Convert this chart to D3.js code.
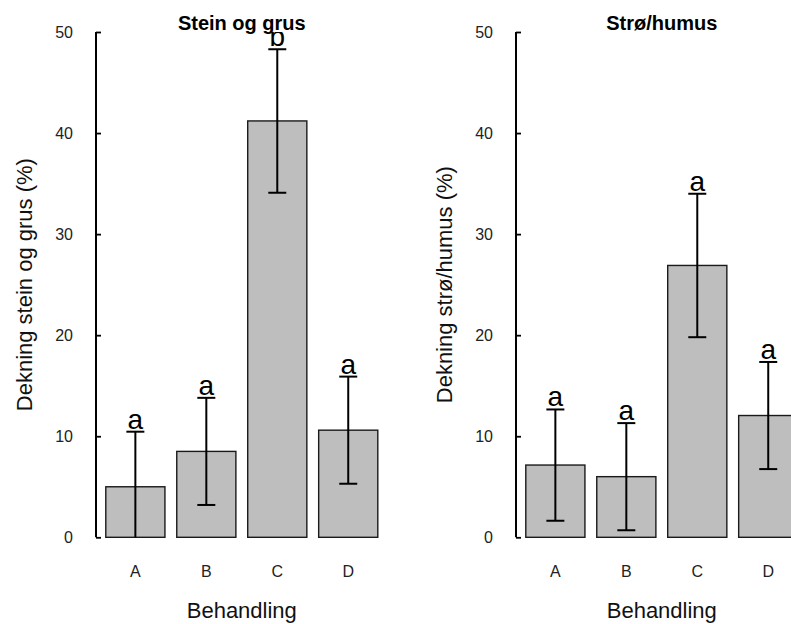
<!DOCTYPE html>
<html>
<head>
<meta charset="utf-8">
<script src="https://cdn.jsdelivr.net/npm/d3@7"></script>
<style>
  html, body { margin: 0; padding: 0; background: #fff; }
  svg { display: block; font-family: "Liberation Sans", Arial, sans-serif; }
</style>
</head>
<body>
<svg id="chart" width="791" height="624"></svg>
<script>
// ---- data ----
const categories = ["A", "B", "C", "D"];
const yTicks = [0, 10, 20, 30, 40, 50];

const steinTitle = "Stein og grus";
const steinYLabel = "Dekning stein og grus (%)";
const steinMean = [5.0, 8.5, 41.2, 10.6];
const steinSE = [5.45, 5.3, 7.1, 5.3];
const steinLetters = ["a", "a", "b", "a"];

const stroTitle = "Strø/humus";
const stroYLabel = "Dekning strø/humus (%)";
const stroMean = [7.15, 6.0, 26.9, 12.05];
const stroSE = [5.5, 5.3, 7.1, 5.3];
const stroLetters = ["a", "a", "a", "a"];

const xLabel = "Behandling";

// ---- drawing ----
const svg = d3.select("#chart");
const yTop = 32, yBottom = 537.3;
const y = d3.scaleLinear().domain([0, 50]).range([yBottom, yTop]);

function panel(id, axisX, title, yLabel, means, ses, letters) {
  const g = svg.append("g");
  const x = d3.scaleBand().domain(categories)
    .range([axisX + 9.8, axisX + 9.8 + 272])
    .paddingInner(1 / 6).paddingOuter(0);

  const clipId = "clip-" + id;
  svg.append("clipPath").attr("id", clipId)
    .append("rect")
    .attr("x", axisX - 20).attr("y", yTop)
    .attr("width", 340).attr("height", yBottom - yTop);

  const rows = categories.map((c, i) => ({ c, m: means[i], se: ses[i], l: letters[i] }));

  // bars
  g.selectAll("rect.bar").data(rows).join("rect")
    .attr("class", "bar")
    .attr("x", d => x(d.c))
    .attr("y", d => y(d.m))
    .attr("width", x.bandwidth())
    .attr("height", d => y(0) - y(d.m))
    .attr("fill", "#bebebe")
    .attr("stroke", "#1a1a1a")
    .attr("stroke-width", 1.4);

  // error bars and letters (clipped to plot region)
  const eg = g.append("g").attr("clip-path", `url(#${clipId})`);
  const cx = d => x(d.c) + x.bandwidth() / 2;
  const capW = 9;
  eg.selectAll("line.err").data(rows).join("line")
    .attr("x1", cx).attr("x2", cx)
    .attr("y1", d => y(d.m - d.se)).attr("y2", d => y(d.m + d.se))
    .attr("stroke", "#000").attr("stroke-width", 2);
  eg.selectAll("line.capHi").data(rows).join("line")
    .attr("x1", d => cx(d) - capW).attr("x2", d => cx(d) + capW)
    .attr("y1", d => y(d.m + d.se)).attr("y2", d => y(d.m + d.se))
    .attr("stroke", "#000").attr("stroke-width", 2);
  eg.selectAll("line.capLo").data(rows).join("line")
    .attr("x1", d => cx(d) - capW).attr("x2", d => cx(d) + capW)
    .attr("y1", d => y(d.m - d.se)).attr("y2", d => y(d.m - d.se))
    .attr("stroke", "#000").attr("stroke-width", 2);
  eg.selectAll("text.letter").data(rows).join("text")
    .attr("x", cx)
    .attr("y", d => y(d.m + d.se) - 3)
    .attr("text-anchor", "middle")
    .attr("font-size", 28)
    .attr("fill", "#000")
    .text(d => d.l);

  // y axis (ticks pointing inward)
  const ax = g.append("g").attr("transform", `translate(${axisX},0)`)
    .call(d3.axisRight(y).tickValues(yTicks).tickSize(5).tickFormat(() => ""));
  ax.select(".domain").remove();
  ax.selectAll(".tick line").attr("stroke", "#000").attr("stroke-width", 1.8);
  g.append("line")
    .attr("x1", axisX).attr("x2", axisX)
    .attr("y1", y(50)).attr("y2", y(0))
    .attr("stroke", "#000").attr("stroke-width", 2);
  g.selectAll("text.ytick").data(yTicks).join("text")
    .attr("x", axisX - 23)
    .attr("y", d => y(d) + 5.5)
    .attr("text-anchor", "end")
    .attr("font-size", 16)
    .attr("fill", "#222")
    .text(d => d);

  // x tick labels
  g.selectAll("text.xtick").data(categories).join("text")
    .attr("x", d => x(d) + x.bandwidth() / 2)
    .attr("y", 576.7)
    .attr("text-anchor", "middle")
    .attr("font-size", 16)
    .attr("fill", "#222")
    .text(d => d);

  const mid = (x.range()[0] + x.range()[1]) / 2;
  // x axis title
  g.append("text")
    .attr("x", mid).attr("y", 618)
    .attr("text-anchor", "middle")
    .attr("font-size", 22)
    .attr("fill", "#111")
    .text(xLabel);

  // y axis title
  g.append("text")
    .attr("transform", `translate(${axisX - 64.5},${(yTop + yBottom) / 2}) rotate(-90)`)
    .attr("text-anchor", "middle")
    .attr("font-size", 22)
    .attr("fill", "#111")
    .text(yLabel);

  // title
  g.append("text")
    .attr("x", mid).attr("y", 29.5)
    .attr("text-anchor", "middle")
    .attr("font-size", 20)
    .attr("font-weight", "bold")
    .attr("fill", "#000")
    .text(title);
}

panel("stein", 96, steinTitle, steinYLabel, steinMean, steinSE, steinLetters);
panel("stro", 516, stroTitle, stroYLabel, stroMean, stroSE, stroLetters);
</script>
</body>
</html>
